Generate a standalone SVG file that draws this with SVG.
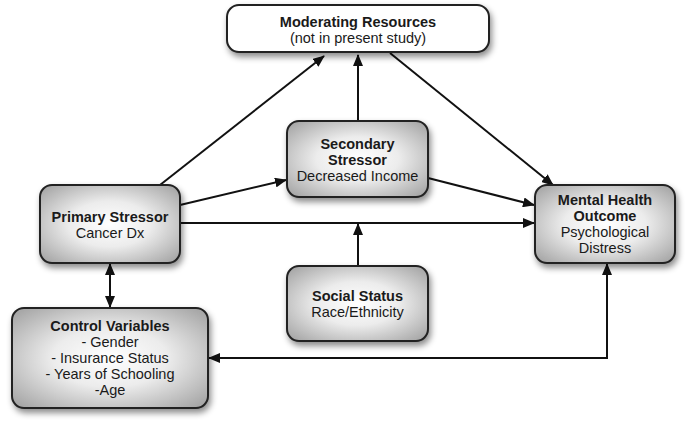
<svg xmlns="http://www.w3.org/2000/svg" width="685" height="426" viewBox="0 0 685 426">
<defs>
<radialGradient id="g" cx="50%" cy="50%" r="65%">
<stop offset="0" stop-color="#ffffff"/>
<stop offset="0.45" stop-color="#ececec"/>
<stop offset="1" stop-color="#a8a8a8"/>
</radialGradient>
<filter id="sh" x="-20%" y="-20%" width="140%" height="150%">
<feDropShadow dx="2" dy="4" stdDeviation="3" flood-color="#000" flood-opacity="0.45"/>
</filter>
<marker id="ah" markerWidth="12" markerHeight="10" refX="11" refY="5" orient="auto-start-reverse" markerUnits="userSpaceOnUse">
<path d="M0,0 L12,5 L0,10 z" fill="#111"/>
</marker>
</defs>
<style>
.box{fill:url(#g);stroke:#222;stroke-width:2;filter:url(#sh)}
.wbox{fill:#fff;stroke:#222;stroke-width:2;filter:url(#sh)}
text{font-family:"Liberation Sans",Arial,sans-serif;font-size:14.5px;fill:#1a1a1a;text-anchor:middle}
.b{font-weight:bold}
.c{fill:none;stroke:#111;stroke-width:2}
</style>
<g id="connectors">
<line class="c" x1="160" y1="185" x2="324" y2="56" marker-end="url(#ah)"/>
<line class="c" x1="358" y1="121" x2="358" y2="55" marker-end="url(#ah)"/>
<line class="c" x1="180" y1="205" x2="286" y2="180" marker-end="url(#ah)"/>
<line class="c" x1="390" y1="53" x2="553" y2="185" marker-end="url(#ah)"/>
<line class="c" x1="428" y1="178" x2="534" y2="205" marker-end="url(#ah)"/>
<line class="c" x1="180" y1="223" x2="534" y2="223" marker-end="url(#ah)"/>
<line class="c" x1="358" y1="266" x2="358" y2="224" marker-end="url(#ah)"/>
<line class="c" x1="110" y1="264" x2="110" y2="307" marker-start="url(#ah)" marker-end="url(#ah)"/>
<polyline class="c" points="607,264 607,358 209,358" marker-start="url(#ah)" marker-end="url(#ah)"/>
</g>
<g id="moderating">
<rect class="wbox" x="227" y="5" width="262" height="47" rx="12"/>
<text class="b" x="358" y="27">Moderating Resources</text>
<text x="358" y="43">(not in present study)</text>
</g>
<g id="secondary">
<rect class="box" x="287" y="121" width="141" height="76" rx="12"/>
<text class="b" x="357.5" y="149">Secondary</text>
<text class="b" x="357.5" y="165">Stressor</text>
<text x="357.5" y="181">Decreased Income</text>
</g>
<g id="primary">
<rect class="box" x="40" y="185" width="140" height="78" rx="12"/>
<text class="b" x="110" y="222">Primary Stressor</text>
<text x="110" y="238">Cancer Dx</text>
</g>
<g id="mental">
<rect class="box" x="535" y="185" width="140" height="78" rx="12"/>
<text class="b" x="605" y="205">Mental Health</text>
<text class="b" x="605" y="221">Outcome</text>
<text x="605" y="237">Psychological</text>
<text x="605" y="253">Distress</text>
</g>
<g id="social">
<rect class="box" x="287" y="266" width="141" height="75" rx="12"/>
<text class="b" x="357.5" y="301">Social Status</text>
<text x="357.5" y="317">Race/Ethnicity</text>
</g>
<g id="control">
<rect class="box" x="12" y="308" width="196" height="100" rx="12"/>
<text class="b" x="110" y="331">Control Variables</text>
<text x="110" y="347">- Gender</text>
<text x="110" y="363">- Insurance Status</text>
<text x="110" y="379">- Years of Schooling</text>
<text x="110" y="395">-Age</text>
</g>
</svg>
